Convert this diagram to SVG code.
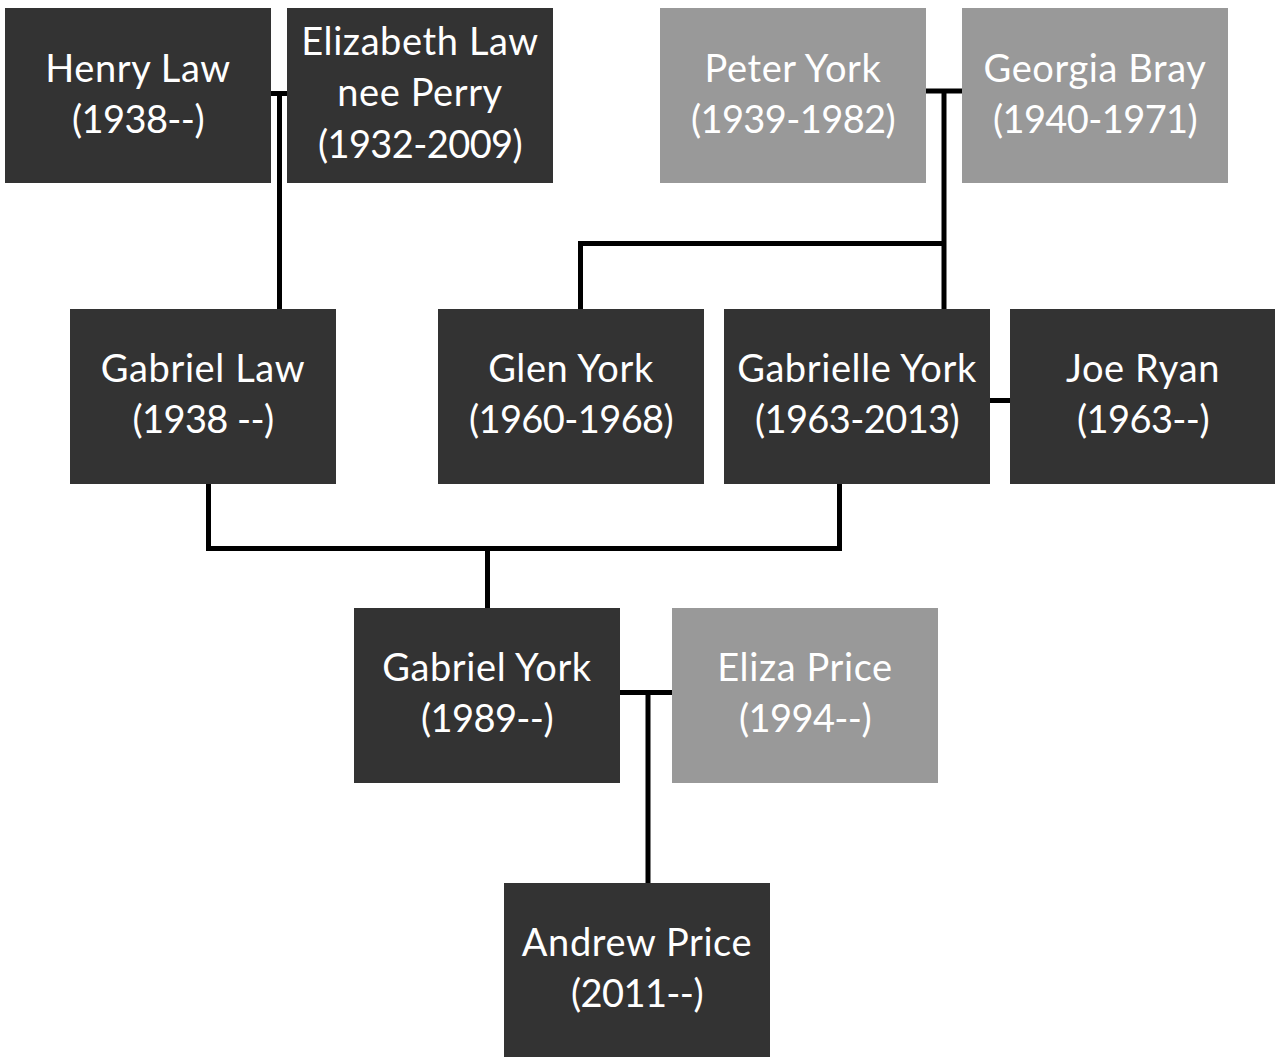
<svg xmlns="http://www.w3.org/2000/svg" width="1275" height="1057" viewBox="0 0 1275 1057">
<style>
.dark{fill:#333333}
.grey{fill:#999999}
text{font-family:"Lato","Open Sans",sans-serif;font-size:38px;font-weight:400;fill:#ffffff;text-anchor:middle;letter-spacing:0.6px}
text.d{letter-spacing:-0.6px}
.c{fill:none;stroke:#000000;stroke-width:5}
</style>
<rect width="1275" height="1057" fill="#ffffff"/>
<g id="connectors">
<path class="c" d="M271,93.5 H287 M279.5,93.5 V309"/>
<path class="c" d="M926,91 H962 M944,91 V309 M944,243.5 H580.5 V309"/>
<path class="c" d="M990,400.5 H1010"/>
<path class="c" d="M208.5,484 V548.5 H839.5 V484 M487.5,548.5 V608"/>
<path class="c" d="M620,692.5 H672 M648,692.5 V883"/>
</g>
<g id="henry-law"><rect class="dark" x="5" y="8" width="266" height="175"/><text x="138" y="82">Henry Law</text><text class="d" x="138" y="133">(1938--)</text></g>
<g id="elizabeth-law"><rect class="dark" x="287" y="8" width="266" height="175"/><text x="420" y="55">Elizabeth Law</text><text x="420" y="106">nee Perry</text><text class="d" x="420" y="158">(1932-2009)</text></g>
<g id="peter-york"><rect class="grey" x="660" y="8" width="266" height="175"/><text x="793" y="82">Peter York</text><text class="d" x="793" y="133">(1939-1982)</text></g>
<g id="georgia-bray"><rect class="grey" x="962" y="8" width="266" height="175"/><text x="1095" y="82">Georgia Bray</text><text class="d" x="1095" y="133">(1940-1971)</text></g>
<g id="gabriel-law"><rect class="dark" x="70" y="309" width="266" height="175"/><text x="203" y="382">Gabriel Law</text><text class="d" x="203" y="433">(1938 --)</text></g>
<g id="glen-york"><rect class="dark" x="438" y="309" width="266" height="175"/><text x="571" y="382">Glen York</text><text class="d" x="571" y="433">(1960-1968)</text></g>
<g id="gabrielle-york"><rect class="dark" x="724" y="309" width="266" height="175"/><text x="857" y="382">Gabrielle York</text><text class="d" x="857" y="433">(1963-2013)</text></g>
<g id="joe-ryan"><rect class="dark" x="1010" y="309" width="266" height="175"/><text x="1143" y="382">Joe Ryan</text><text class="d" x="1143" y="433">(1963--)</text></g>
<g id="gabriel-york"><rect class="dark" x="354" y="608" width="266" height="175"/><text x="487" y="681">Gabriel York</text><text class="d" x="487" y="732">(1989--)</text></g>
<g id="eliza-price"><rect class="grey" x="672" y="608" width="266" height="175"/><text x="805" y="681">Eliza Price</text><text class="d" x="805" y="732">(1994--)</text></g>
<g id="andrew-price"><rect class="dark" x="504" y="883" width="266" height="174"/><text x="637" y="956">Andrew Price</text><text class="d" x="637" y="1007">(2011--)</text></g>
</svg>
